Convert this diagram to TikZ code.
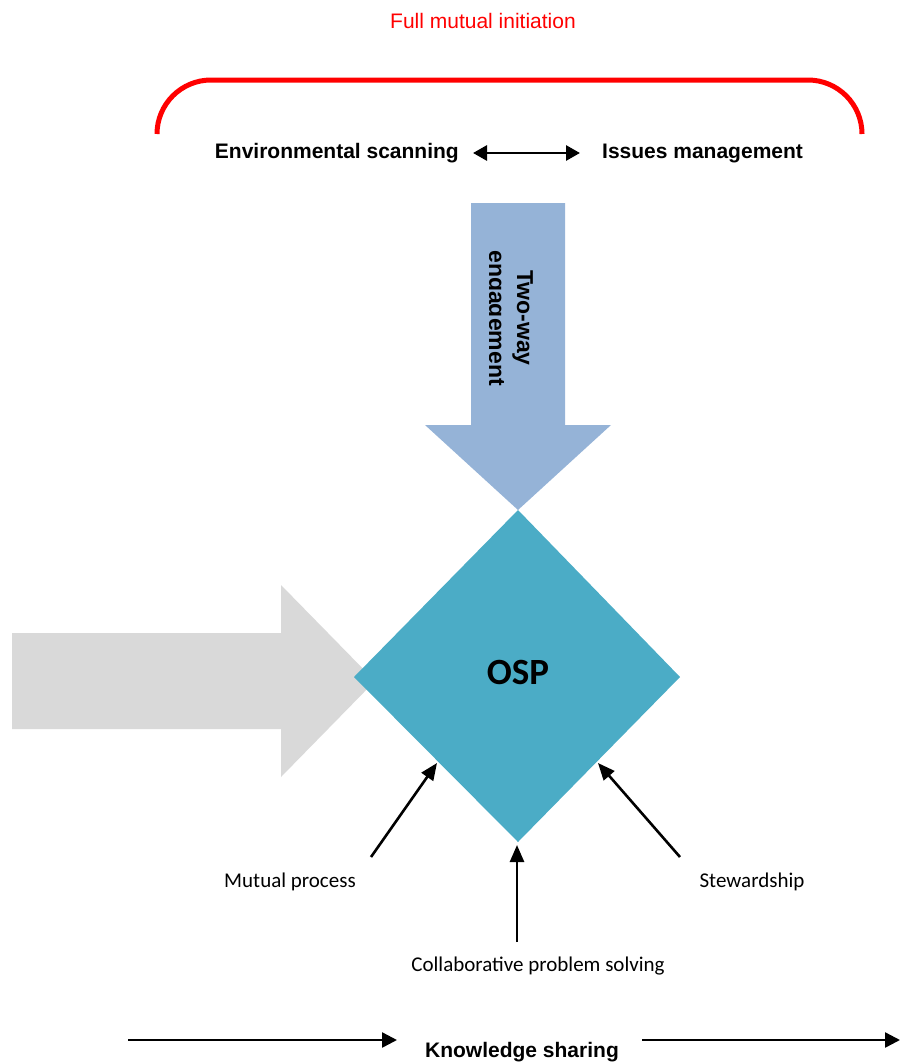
\documentclass[tikz,border=0pt]{standalone}
\usepackage{fontspec}
\setmainfont{Liberation Sans}
\newfontfamily\calibri{Carlito}
\usetikzlibrary{arrows.meta}
\definecolor{engblue}{HTML}{95B3D7}
\definecolor{ospteal}{HTML}{4BACC6}
\definecolor{flowgray}{HTML}{D9D9D9}
\tikzset{
  headtxt/.style={font=\fontsize{21}{25}\selectfont\bfseries, inner sep=0pt},
  lbltxt/.style={font=\calibri\fontsize{21}{25}\selectfont, inner sep=0pt},
  vtxt/.style={font=\fontsize{23}{27}\selectfont\bfseries, inner sep=0pt, rotate=-90, anchor=base},
  feed/.style={line width=2.6pt, -{Triangle[length=17pt,width=14pt]}},
  flow/.style={line width=2.5pt, -{Triangle[length=15pt,width=15pt]}},
  twoway/.style={line width=2.8pt, {Triangle[length=14pt,width=15pt]}-{Triangle[length=14pt,width=15pt]}}
}
\begin{document}
\begin{tikzpicture}[x=1pt,y=-1pt]
\useasboundingbox (0,0) rectangle (900,1063);

% title and bracket
\node[font=\fontsize{21}{25}\selectfont, text=red, inner sep=0pt] (title) at (483,21) {Full mutual initiation};
\draw[red, line width=5pt, rounded corners=54pt] (157,134) -- (157,80) -- (862,80) -- (862,134);

% top row
\node[headtxt, anchor=east] (env) at (459,153) {Environmental scanning};
\node[headtxt, anchor=west] (iss) at (602,153) {Issues management};
\draw[twoway] ([xshift=14pt]env.east) -- ([xshift=-22pt]iss.west);

% grey arrow into the diamond (behind it)
\fill[flowgray] (12,633) -- (281,633) -- (281,585) -- (375,681) -- (281,777) -- (281,729) -- (12,729) -- cycle;

% blue engagement arrow
\fill[engblue] (471,203) -- (565,203) -- (565,425) -- (611,425) -- (518,510) -- (425,425) -- (471,425) -- cycle;
\begin{scope}
  \clip (489,200) rectangle (566,430);
  \node[vtxt] (tw1) at (517,318) {Two-way};
  \node[vtxt] (tw2) at (489,318) {engagement};
\end{scope}

% OSP diamond
\fill[ospteal] (518,510) -- (680,677) -- (518,842) -- (354,677) -- cycle;
\node[font=\calibri\fontsize{37}{40}\selectfont\bfseries, inner sep=0pt] (osp) at (518,672) {OSP};
\coordinate (dl) at (437,763);
\coordinate (db) at (517,845);
\coordinate (dr) at (598,763);

% contributing labels
\node[lbltxt] (mut) at (290,882) {Mutual process};
\node[lbltxt] (stew) at (752,882) {Stewardship};
\node[lbltxt] (coll) at (538,966) {Collaborative problem solving};
\coordinate (mutS) at (371,857);
\coordinate (collS) at (517,942);
\coordinate (stewS) at (680,857);
\draw[feed] (mutS) -- (dl);
\draw[feed] (collS) -- (db);
\draw[feed] (stewS) -- (dr);

% knowledge sharing row
\node[headtxt, anchor=base] (ks) at (522,1057) {Knowledge sharing};
\coordinate (k1) at (128,1040);
\coordinate (k2) at (397,1040);
\coordinate (k3) at (642,1040);
\coordinate (k4) at (900,1040);
\draw[flow] (k1) -- (k2);
\draw[flow] (k3) -- (k4);
\end{tikzpicture}
\end{document}
